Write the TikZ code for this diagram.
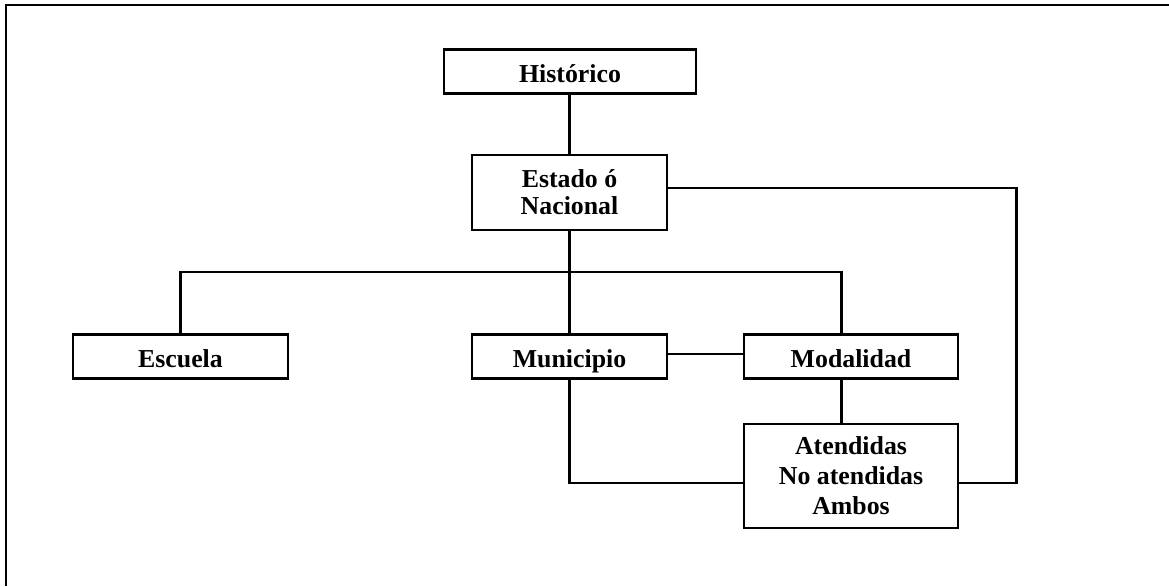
\documentclass[tikz,border=0pt]{standalone}
\usepackage{fontspec}
\setmainfont{Liberation Serif}
\usetikzlibrary{calc}

\begin{document}
\begin{tikzpicture}[x=0.02cm,y=-0.02cm,
    caja/.style={draw,line width=1.2pt,fill=white,inner sep=0pt,
        font=\fontsize{14.7}{17}\selectfont\bfseries,text height=19pt,text depth=6pt},
    cajaalta/.style={draw,line width=1.2pt,fill=white,inner sep=0pt,align=center,
        font=\fontsize{14.7}{17}\selectfont\bfseries},
    linea/.style={line width=1.2pt}]
    \useasboundingbox (0,0) rectangle (1169,586);
    \draw[line width=1.4pt] (6,586) -- (6,5) -- (1169,5); % marco

    % cajas
    \node[caja,minimum width=5.04cm] (hist) at (570,71.5) {Histórico};
    \node[cajaalta,minimum width=3.9cm,minimum height=1.5cm,
          font=\fontsize{14.7}{15.3}\selectfont\bfseries] (est) at (569.5,192.5) {Estado ó\\Nacional};
    \node[caja,minimum width=4.3cm] (esc) at (180.5,356.5) {Escuela};
    \node[caja,minimum width=3.9cm] (mun) at (569.5,356.5) {Municipio};
    \node[caja,minimum width=4.28cm] (mod) at (851,356.5) {Modalidad};
    \node[cajaalta,minimum width=4.28cm,minimum height=2.08cm] (aten) at (851,476)
        {Atendidas\\No atendidas\\Ambos};

    % puntos de quiebre
    \coordinate (cruce) at (569.5,272);
    \coordinate (bajada) at (841.5,272);
    \coordinate (derecha) at (1016.5,483);

    % conexiones
    \draw[linea] (hist.south -| est.north) -- (est.north);
    \draw[linea] (est.south) -- (mun.north);
    \draw[linea] (esc.north) |- (cruce) -- (bajada) -- (bajada |- mod.north);
    \draw[linea] (mun.east |- 0,354) -- (mod.west |- 0,354);
    \draw[linea] (mod.south -| bajada) -- (bajada |- aten.north);
    \draw[linea] (mun.south) |- (aten.west |- derecha);
    \draw[linea] (aten.east |- derecha) -- (derecha) |- (est.east |- 0,188);
\end{tikzpicture}
\end{document}
